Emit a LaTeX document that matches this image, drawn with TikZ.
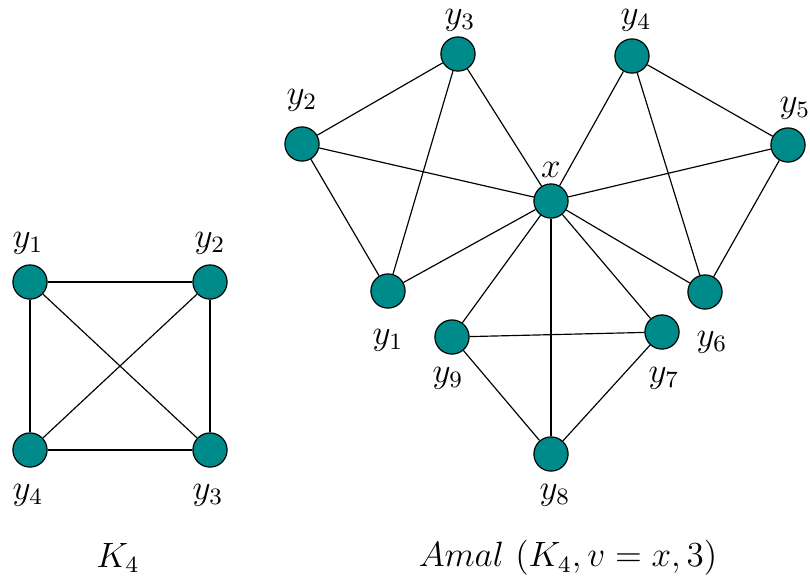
\documentclass[tikz,border=0pt]{standalone}
\usepackage{tikz}
\usetikzlibrary{positioning}
\usepackage{amsmath,amssymb}
\usepackage{xcolor}
\definecolor{vertex}{HTML}{008B8B}

\begin{document}
\begin{tikzpicture}[
  x=0.012cm, y=-0.012cm,
  vtx/.style={circle, draw, fill=vertex, minimum size=0.41cm, inner sep=0pt},
  lbl/.style={inner sep=1pt, font=\large},
  edge/.style={draw, thin}
]
  \useasboundingbox (0,0) rectangle (810,585);

  % K_4
  \node[vtx] (a1) at (30,282) {};
  \node[vtx] (a2) at (210,282) {};
  \node[vtx] (a3) at (210,450) {};
  \node[vtx] (a4) at (30,450) {};

  \node[lbl] (la1) at (28,243) {$y_1$};
  \node[lbl] (la2) at (210,243) {$y_2$};
  \node[lbl] (la3) at (208,495) {$y_3$};
  \node[lbl] (la4) at (28,495) {$y_4$};

  \draw[edge] (a1) -- (a2);
  \draw[edge] (a2) -- (a3);
  \draw[edge] (a3) -- (a4);
  \draw[edge] (a4) -- (a1);
  \draw[edge] (a1) -- (a3);
  \draw[edge] (a2) -- (a4);

  \node[lbl] (k4) at (118,558) {$K_4$};

  % Amal (K_4, v = x, 3)
  \node[vtx] (x) at (551,201) {};
  \node[vtx] (b1) at (388,291) {};
  \node[vtx] (b2) at (302,144) {};
  \node[vtx] (b3) at (458,54) {};
  \node[vtx] (b4) at (632,56) {};
  \node[vtx] (b5) at (788,145) {};
  \node[vtx] (b6) at (705,292) {};
  \node[vtx] (b7) at (662,332) {};
  \node[vtx] (b8) at (551,454) {};
  \node[vtx] (b9) at (452,337) {};

  \node[lbl] (lx) at (551,170) {$x$};
  \node[lbl] (lb1) at (388,340) {$y_1$};
  \node[lbl] (lb2) at (302,100) {$y_2$};
  \node[lbl] (lb3) at (460,20) {$y_3$};
  \node[lbl] (lb4) at (636,20) {$y_4$};
  \node[lbl] (lb5) at (795,108) {$y_5$};
  \node[lbl] (lb6) at (712,342) {$y_6$};
  \node[lbl] (lb7) at (664,378) {$y_7$};
  \node[lbl] (lb8) at (555,495) {$y_8$};
  \node[lbl] (lb9) at (448,378) {$y_9$};

  \foreach \v in {b1,b2,b3,b4,b5,b6,b7,b8,b9}
    \draw[edge] (x) -- (\v);
  \draw[edge] (b1) -- (b2) -- (b3) -- (b1);
  \draw[edge] (b4) -- (b5) -- (b6) -- (b4);
  \draw[edge] (b7) -- (b8) -- (b9) -- (b7);

  \node[lbl] (amal) at (568,558) {$Amal\ (K_4, v=x, 3)$};
\end{tikzpicture}
\end{document}
